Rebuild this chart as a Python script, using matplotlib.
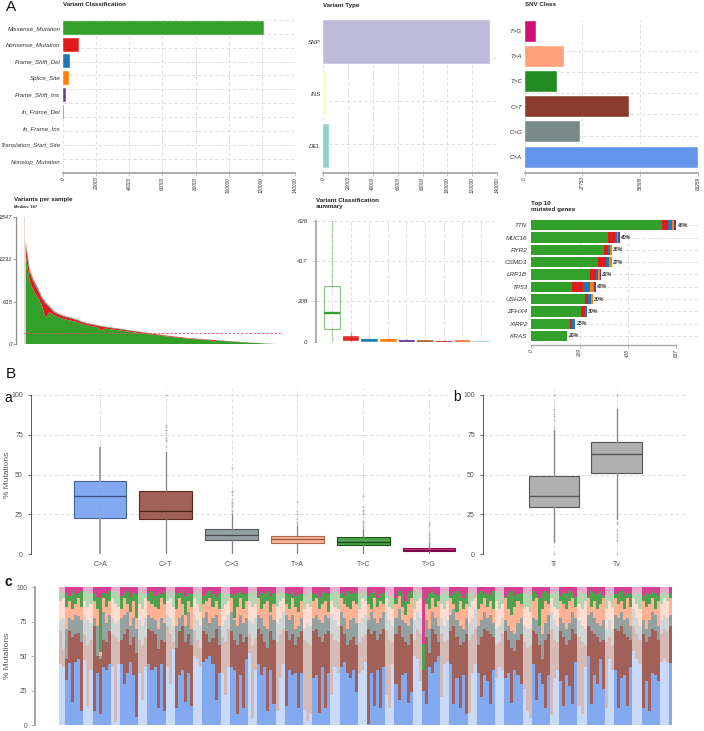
import numpy as np
import matplotlib
matplotlib.use('Agg')
import matplotlib.pyplot as plt
from matplotlib.colors import to_rgba, to_rgb

W, H = 704, 731
plt.rcParams['font.family'] = ['Liberation Sans', 'DejaVu Sans']

GRID = '#d8d8d8'
AXIS_GREY = '#a8a8a8'
TEXT = '#333333'

# variant classification
var_class = ['Missense_Mutation', 'Nonsense_Mutation', 'Frame_Shift_Del', 'Splice_Site', 'Frame_Shift_Ins',
             'In_Frame_Del', 'In_Frame_Ins', 'Translation_Start_Site', 'Nonstop_Mutation']
var_class_counts = [121300, 9900, 4200, 3600, 1600, 600, 300, 250, 40]
var_class_colors = ['#33a02c', '#e31a1c', '#1f78b4', '#ff7f00', '#6a3d9a', '#b15928', '#d53e4f', '#f46d43', '#a6cee3']
var_class_ticks = [0, 20000, 40000, 60000, 80000, 100000, 120000, 140000]

# variant type
var_type = ['SNP', 'INS', 'DEL']
var_type_counts = [134000, 1800, 4600]
var_type_colors = ['#bebada', '#ffffb3', '#8dd3c7']

# snv class
snv_class = ['T>G', 'T>A', 'T>C', 'C>T', 'C>G', 'C>A']
snv_counts = [5280, 19050, 15370, 50000, 26400, 83259]
snv_colors = ['#cd1076', '#ffa07a', '#228b22', '#8b3a2e', '#7a8a88', '#6495ed']
snv_ticks = [0, 27753, 55506, 83259]

# variants per sample, sorted by total
sample_missense = [1295, 910, 774, 678, 575, 380, 468, 422, 397, 376, 359, 346, 333, 318, 294, 278, 267, 257, 247, 200,
                   227, 220, 212, 205, 198, 190, 181, 174, 167, 159, 152, 145, 138, 132, 125, 117, 111, 104, 98, 92,
                   86, 80, 77, 73, 69, 65, 61, 40, 54, 49, 45, 42, 38, 34, 31, 27, 24, 20, 18, 14, 11, 8, 6, 3, 1]
sample_nonsense = [130, 125, 120, 110, 90, 205, 60, 45, 38, 35, 33, 32, 30, 28, 26, 24, 23, 22, 21, 55,
                   20, 19, 18, 18, 17, 16, 16, 15, 14, 14, 13, 12, 12, 11, 10, 10, 9, 9, 8, 8,
                   7, 7, 6, 6, 6, 5, 5, 22, 4, 4, 4, 3, 3, 3, 2, 2, 2, 2, 1, 1, 1, 1, 0, 0, 0]
sample_frameshift = [40, 30, 26, 24, 20, 18, 15, 13, 11, 10, 10, 9, 9, 9, 8, 8, 7, 7, 7, 6,
                     6, 6, 6, 5, 5, 5, 5, 4, 4, 4, 4, 3, 3, 3, 3, 3, 2, 2, 2, 2,
                     2, 2, 2, 1, 1, 1, 1, 1, 1, 1, 1, 1, 0, 0, 0, 0, 0, 0, 0, 0, 0, 0, 0, 0, 0]
sample_splice = [35, 25, 20, 18, 15, 14, 12, 10, 9, 9, 8, 8, 8, 7, 7, 6, 6, 6, 5, 5,
                 5, 5, 4, 4, 4, 4, 3, 3, 3, 3, 3, 3, 2, 2, 2, 2, 2, 2, 2, 1,
                 1, 1, 1, 1, 1, 1, 1, 0, 0, 0, 0, 0, 0, 0, 0, 0, 0, 0, 0, 0, 0, 0, 0, 0, 0]
sample_max = 1847
sample_median = 167

# variant classification summary: q1, median, q3, whisker low, whisker high
summary_q1 = [64, 8, 4, 3, 2, 0, 0, 0, 0]
summary_med = [148, 14, 8, 8, 5, 2, 1, 2, 1]
summary_q3 = [290, 28, 14, 14, 10, 6, 5, 5, 4]
summary_lo = [0, 0, 0, 0, 0, 0, 0, 0, 0]
summary_hi = [626, 50, 20, 24, 14, 9, 8, 8, 6]

# top 10 mutated genes
genes = ['TTN', 'MUC16', 'RYR2', 'CSMD3', 'LRP1B', 'TP53', 'USH2A', 'ZFHX4', 'XIRP2', 'KRAS']
gene_missense = [566, 330, 313, 290, 254, 174, 231, 215, 166, 154]
gene_nonsense = [25, 33, 19, 32, 24, 50, 16, 19, 10, 0]
gene_frameshift = [19, 9, 9, 16, 9, 29, 9, 9, 14, 0]
gene_splice = [7, 4, 10, 12, 9, 20, 10, 0, 0, 0]
gene_fsins = [10, 7, 0, 0, 7, 6, 0, 0, 0, 0]
gene_pct = ['46%', '40%', '36%', '37%', '32%', '48%', '30%', '30%', '25%', '26%']

# titv boxes
titv_labels = ['C>A', 'C>T', 'C>G', 'T>A', 'T>C', 'T>G']
titv_q1 = [22.8, 22, 9.2, 7, 6, 1.8]
titv_med = [36.8, 27, 12, 9.5, 7.5, 2.8]
titv_q3 = [46, 39.5, 15.7, 11.3, 10.7, 4]
titv_lo = [0, 0, 0, 0, 0, 0]
titv_hi = [67, 64, 25, 18, 16, 7]
titv_fliers = [[],
               [68, 71, 72, 73, 76, 78, 80, 81, 100],
               [26, 27, 28, 30, 31, 32, 33, 35, 37, 39, 40, 54],
               [19, 20, 22, 25, 27, 33],
               [17, 18, 19, 20, 21, 25, 26, 27, 28, 30, 36.5, 50],
               [8, 9, 10, 11, 12, 13, 14, 18, 19, 20, 41]]
titv_colors = ['#6495ed', '#8b3a2e', '#7a8a88', '#ffa07a', '#228b22', '#cd1076']

tv_labels = ['Ti', 'Tv']
tv_q1 = [29.5, 50.8]
tv_med = [36.8, 63.2]
tv_q3 = [49, 70.5]
tv_lo = [8, 22]
tv_hi = [78, 91.5]
tv_fliers = [[0, 80, 84, 87, 88, 90, 91, 100], [0, 9, 11, 13, 15, 19, 20, 100]]

# stacked fractions per sample, cumulative tops of each class (T>G fills up to 100)
band_sizes = [2, 6] + [3, 6] * 21 + [3, 1]
c_a_top = [44, 42, 33, 45, 17, 46, 48, 10,
           47, 13, 40, 10, 38, 8, 42, 40, 44,
           42, 2, 44, 44, 30, 38, 46, 36, 6,
           38, 18, 42, 44, 40, 42, 12, 44, 10,
           42, 30, 55, 12, 36, 40, 17, 38, 14,
           50, 48, 42, 46, 48, 50, 44, 18, 38,
           38, 22, 42, 42, 40, 8, 36, 12, 48,
           52, 5, 40, 44, 36, 42, 10, 40, 15,
           10, 34, 44, 14, 40, 36, 38, 12, 38,
           11, 3, 8, 34, 36, 9, 42, 12, 38,
           22, 42, 38, 42, 46, 38, 34, 40, 24,
           38, 40, 46, 1, 38, 14, 40, 12, 42,
           22, 12, 44, 30, 18, 36, 38, 16, 24,
           50, 48, 32, 25, 15, 42, 38, 46, 50,
           20, 44, 46, 44, 15, 34, 12, 36, 8,
           9, 38, 44, 38, 20, 36, 32, 15, 40,
           34, 42, 40, 34, 38, 16, 40, 36, 30,
           26, 10, 5, 44, 18, 38, 30, 12, 36,
           7, 34, 40, 32, 14, 36, 28, 15, 46,
           14, 8, 42, 50, 15, 36, 30, 48, 26,
           12, 48, 40, 40, 12, 34, 36, 14, 42,
           54, 48, 44, 12, 32, 10, 38, 36, 32,
           46, 48, 45, 45]
c_t_top = [68, 55, 48, 68, 64, 66, 67, 60,
           65, 58, 62, 72, 50, 48, 62, 60, 68,
           66, 64, 60, 62, 66, 70, 58, 64, 52,
           62, 58, 64, 70, 68, 66, 55, 62, 60,
           72, 66, 60, 56, 68, 72, 60, 66, 58,
           68, 62, 56, 68, 66, 60, 63, 70, 58,
           64, 60, 70, 68, 62, 58, 66, 60, 64,
           66, 58, 63, 70, 66, 60, 56, 68, 62,
           60, 66, 70, 68, 62, 66, 58, 64, 68,
           62, 60, 58, 68, 70, 64, 60, 66, 68,
           66, 62, 60, 72, 66, 58, 62, 64, 58,
           60, 64, 66, 70, 66, 68, 62, 66, 70,
           68, 62, 60, 66, 72, 64, 60, 58, 66,
           62, 70, 66, 40, 64, 52, 70, 66, 60,
           66, 60, 62, 68, 72, 64, 58, 60, 66,
           62, 66, 70, 58, 64, 70, 68, 66, 64,
           58, 60, 66, 68, 62, 56, 54, 62, 66,
           60, 56, 58, 68, 66, 58, 48, 62, 66,
           70, 62, 60, 68, 64, 58, 62, 70, 66,
           64, 60, 58, 72, 68, 66, 64, 60, 62,
           60, 64, 58, 70, 68, 72, 66, 64, 62,
           72, 66, 62, 66, 60, 64, 70, 68, 62,
           66, 70, 68, 72]
c_g_top = [76, 78, 70, 78, 76, 80, 79, 76,
           80, 76, 74, 78, 72, 50, 82, 74, 80,
           78, 74, 76, 78, 80, 82, 72, 78, 70,
           76, 72, 78, 80, 78, 76, 70, 78, 74,
           80, 78, 72, 72, 78, 80, 72, 82, 70,
           80, 76, 72, 78, 82, 74, 78, 80, 72,
           72, 76, 80, 82, 76, 72, 80, 74, 78,
           76, 74, 78, 80, 78, 72, 70, 80, 76,
           74, 78, 82, 80, 76, 80, 70, 72, 78,
           70, 74, 72, 78, 80, 76, 74, 80, 78,
           80, 76, 72, 82, 78, 70, 76, 78, 74,
           74, 78, 80, 76, 82, 78, 74, 78, 82,
           82, 76, 72, 78, 84, 76, 74, 72, 78,
           76, 82, 78, 40, 76, 70, 82, 78, 72,
           78, 72, 76, 80, 84, 76, 72, 70, 78,
           74, 78, 84, 72, 76, 82, 78, 80, 74,
           70, 72, 78, 76, 72, 68, 66, 74, 78,
           72, 70, 70, 78, 76, 72, 66, 74, 80,
           82, 76, 72, 78, 74, 70, 74, 82, 78,
           76, 72, 70, 80, 82, 78, 74, 72, 76,
           70, 76, 70, 80, 78, 82, 76, 78, 72,
           84, 78, 72, 76, 70, 76, 82, 80, 72,
           76, 80, 78, 80]
t_a_top = [90, 92, 86, 90, 84, 88, 92, 86,
           90, 86, 88, 90, 84, 53, 92, 86, 90,
           92, 88, 86, 84, 92, 88, 82, 90, 78,
           88, 84, 92, 90, 88, 86, 84, 92, 88,
           90, 92, 86, 84, 92, 88, 80, 90, 86,
           92, 88, 82, 88, 90, 92, 86, 90, 84,
           84, 88, 90, 92, 78, 86, 92, 84, 90,
           90, 86, 88, 92, 84, 88, 90, 82, 88,
           86, 90, 92, 88, 84, 92, 86, 82, 90,
           84, 88, 86, 90, 92, 84, 88, 90, 82,
           90, 86, 84, 92, 88, 86, 84, 90, 88,
           84, 92, 90, 88, 84, 92, 86, 90, 88,
           92, 86, 84, 88, 94, 86, 80, 88, 92,
           84, 90, 92, 40, 88, 84, 92, 86, 90,
           88, 84, 90, 92, 88, 82, 90, 84, 88,
           86, 90, 92, 84, 88, 92, 86, 90, 84,
           90, 84, 88, 92, 84, 80, 86, 90, 88,
           84, 86, 82, 90, 92, 72, 84, 90, 88,
           92, 86, 84, 90, 88, 84, 90, 92, 86,
           88, 84, 90, 92, 86, 90, 84, 88, 92,
           84, 90, 86, 92, 88, 90, 84, 92, 86,
           92, 88, 84, 90, 86, 88, 92, 84, 90,
           88, 92, 90, 92]
t_c_top = [97, 96, 96, 94, 97, 95, 96, 97,
           96, 97, 95, 96, 93, 92, 96, 95, 97,
           96, 97, 95, 94, 96, 97, 93, 96, 95,
           97, 96, 95, 96, 97, 94, 96, 95, 97,
           96, 94, 97, 95, 96, 97, 94, 96, 95,
           95, 97, 96, 94, 96, 97, 95, 93, 96,
           97, 95, 96, 95, 94, 96, 97, 95, 96,
           96, 95, 97, 93, 96, 95, 97, 94, 96,
           95, 97, 96, 96, 95, 97, 94, 96, 95,
           94, 96, 97, 95, 96, 93, 97, 96, 95,
           96, 97, 95, 96, 94, 97, 95, 96, 97,
           95, 96, 97, 94, 96, 97, 92, 95, 96,
           97, 94, 96, 92, 97, 95, 90, 96, 97,
           95, 97, 96, 59, 92, 96, 97, 95, 94,
           96, 95, 97, 94, 96, 97, 95, 92, 96,
           95, 97, 94, 96, 97, 95, 96, 94, 97,
           96, 97, 95, 93, 96, 97, 94, 95, 96,
           95, 96, 94, 97, 95, 92, 96, 97, 95,
           96, 95, 97, 94, 96, 95, 97, 96, 93,
           97, 95, 96, 94, 97, 96, 95, 97, 94,
           96, 94, 97, 95, 96, 97, 94, 96, 95,
           95, 97, 96, 94, 96, 95, 97, 96, 94,
           96, 97, 95, 96]


def px_axes(fig, left, top, right, bottom):
    return fig.add_axes([left / W, 1 - bottom / H, (right - left) / W, (bottom - top) / H])


def px_text(fig, x, y, s, **kw):
    kw.setdefault('va', 'center')
    return fig.text(x / W, 1 - y / H, s, **kw)


def clean(ax):
    for side in ['top', 'right', 'left', 'bottom']:
        ax.spines[side].set_visible(False)
    ax.patch.set_alpha(0)
    ax.set_axisbelow(True)


def dashed_v(ax, xs):
    for x in xs:
        ax.axvline(x, color=GRID, lw=0.6, ls=(0, (4, 3)), zorder=0)


def dashed_h(ax, ys):
    for y in ys:
        ax.axhline(y, color=GRID, lw=0.6, ls=(0, (4, 3)), zorder=0)


def darker(col, f):
    return tuple(c * f for c in to_rgb(col))


def top_barplot(fig, box, labels, values, colors, ticks, xmax, first, step, height, grid_px):
    left, top, right, bottom = box
    ax = px_axes(fig, left, top, right, bottom)
    clean(ax)
    ypos = np.arange(len(labels))
    ax.set_ylim((bottom - first) / step, (top - first) / step)
    ax.set_xlim(0, xmax)
    dashed_v(ax, ticks)
    dashed_h(ax, [(g - first) / step for g in grid_px])
    ax.barh(ypos, values, height=height / step, color=colors, edgecolor='white', linewidth=0.3, zorder=2)
    ax.set_yticks(ypos)
    ax.set_yticklabels(labels, fontsize=4.4, style='italic', color=TEXT)
    ax.tick_params(axis='y', length=0, pad=2)
    ax.set_xticks(ticks)
    ax.set_xticklabels([str(t) for t in ticks], fontsize=3.4, rotation=90, color=TEXT, style='italic')
    ax.tick_params(axis='x', length=2, width=0.5, color=AXIS_GREY, pad=1)
    ax.spines['bottom'].set_visible(True)
    ax.spines['bottom'].set_color(AXIS_GREY)
    ax.spines['bottom'].set_linewidth(1.3)
    return ax


def make_stats(q1, med, q3, lo, hi, fliers=None):
    stats = []
    for i in range(len(q1)):
        stats.append({'q1': q1[i], 'med': med[i], 'q3': q3[i], 'whislo': lo[i], 'whishi': hi[i],
                      'fliers': fliers[i] if fliers else []})
    return stats


def main():
    fig = plt.figure(figsize=(W / 100, H / 100), dpi=100)

    # Panel A, top row
    top_barplot(fig, (63, 20, 295, 173), var_class, var_class_counts, var_class_colors, var_class_ticks, 140000,
                28, 16.7, 14, [20 + 13.87 * i for i in range(12)])
    top_barplot(fig, (323.3, 20, 497, 173), var_type, var_type_counts, var_type_colors, var_class_ticks, 140000,
                42, 52, 43.5, [57.7, 101, 144.3])
    top_barplot(fig, (524.7, 20, 698, 173), snv_class, snv_counts, snv_colors, snv_ticks, 83259,
                31, 25.2, 21, [51, 72.3, 93.3, 114.3, 135.7])

    px_text(fig, 63, 5, 'Variant Classification', fontsize=4.5, fontweight='bold', color='#222222')
    px_text(fig, 323, 5, 'Variant Type', fontsize=4.5, fontweight='bold', color='#222222')
    px_text(fig, 525, 5, 'SNV Class', fontsize=4.5, fontweight='bold', color='#222222')

    # Variants per sample
    ax = px_axes(fig, 23.7, 216.7, 283, 344.3)
    clean(ax)
    ax.spines['left'].set_visible(True)
    ax.spines['left'].set_position(('outward', 5.5))
    ax.spines['left'].set_color('#888888')
    ax.spines['left'].set_linewidth(0.9)
    xs = np.arange(len(sample_missense))
    ax.set_xlim(-0.5, len(xs) - 0.5)
    ax.set_ylim(0, sample_max)
    ax.bar([-0.5], [sample_max], width=0.35, align='edge', color='#e6d9cf', linewidth=0, zorder=1)
    ax.stackplot(xs, sample_missense, sample_nonsense, sample_frameshift, sample_splice,
                 colors=['#33a02c', '#e31a1c', '#1f78b4', '#ff7f00'], linewidth=0, zorder=2)
    ax.axhline(sample_median, color='#e8506a', lw=0.6, ls=(0, (3, 2)), zorder=3)
    ax.set_xticks([])
    ax.set_yticks([0, 615, 1231, 1847])
    ax.set_yticklabels(['0', '615', '1231', '1847'], fontsize=4.4, style='italic', color=TEXT)
    ax.tick_params(axis='y', length=2, width=0.5, color='#777777', pad=0.5)
    px_text(fig, 14, 200, 'Variants per sample', fontsize=4.5, fontweight='bold', color='#222222')
    px_text(fig, 14, 207, 'Median: %d' % sample_median, fontsize=2.9, fontweight='bold', color='#222222')

    # Variant classification summary
    ax = px_axes(fig, 315.7, 220.7, 495, 341.7)
    clean(ax)
    ax.set_xlim(-0.875, (495 - 332) / 18.62)
    ax.set_ylim(0, 626)
    dashed_v(ax, range(9))
    dashed_h(ax, [0, 208, 417, 626])
    stats = make_stats(summary_q1, summary_med, summary_q3, summary_lo, summary_hi)
    for i, col in enumerate(var_class_colors):
        face = 'none' if i == 0 else to_rgba(col, 0.85)
        ax.bxp([stats[i]], positions=[i], widths=0.84, showcaps=False, showfliers=False, patch_artist=True,
               boxprops=dict(facecolor=face, edgecolor=to_rgba(col, 0.6), linewidth=0.8),
               whiskerprops=dict(color=to_rgba(col, 0.35), linewidth=1.0),
               medianprops=dict(color=col, linewidth=1.7 if i == 0 else 1.1), zorder=2)
    ax.set_xticks([])
    ax.set_yticks([0, 208, 417, 626])
    ax.set_yticklabels(['0', '208', '417', '626'], fontsize=4.4, style='italic', color=TEXT)
    ax.tick_params(axis='y', length=2, width=0.5, color=AXIS_GREY, pad=4)
    ax.spines['left'].set_visible(True)
    ax.spines['left'].set_color(AXIS_GREY)
    ax.spines['left'].set_linewidth(1.3)
    px_text(fig, 316, 203.5, 'Variant Classification\nsummary', fontsize=4.5, fontweight='bold', color='#222222',
            linespacing=1.1)

    # Top 10 genes
    ax = px_axes(fig, 531.3, 219, 698, 345)
    clean(ax)
    ax.set_xlim(0, 627 * (698 - 531.3) / 145)
    ys = np.arange(len(genes))
    step = 12.3
    ax.set_ylim((345 - 225.3) / step, (219 - 225.3) / step)
    dashed_v(ax, [209, 418])
    dashed_h(ax, ys)
    left = np.zeros(len(genes))
    for vals, col in [(gene_missense, '#33a02c'), (gene_nonsense, '#e31a1c'), (gene_frameshift, '#1f78b4'),
                      (gene_splice, '#ff7f00'), (gene_fsins, '#6a3d9a')]:
        ax.barh(ys, vals, left=left, height=10.3 / step, color=col, linewidth=0, zorder=2)
        left += np.array(vals)
    for y, total, pct in zip(ys, left, gene_pct):
        ax.text(total + 3, y, pct, fontsize=3.7, style='italic', fontweight='bold', color=TEXT, va='center', zorder=3)
    ax.set_yticks(ys)
    ax.set_yticklabels(genes, fontsize=4.6, style='italic', color=TEXT)
    ax.tick_params(axis='y', length=0, pad=3)
    ax.set_xticks([0, 209, 418, 627])
    ax.set_xticklabels(['0', '209', '418', '627'], fontsize=3.4, rotation=90, style='italic', color=TEXT)
    ax.tick_params(axis='x', length=2, width=0.5, color=AXIS_GREY, pad=1)
    ax.spines['bottom'].set_visible(True)
    ax.spines['bottom'].set_bounds(0, 627)
    ax.spines['bottom'].set_color(AXIS_GREY)
    ax.spines['bottom'].set_linewidth(1.0)
    px_text(fig, 531, 206.5, 'Top 10\nmutated genes', fontsize=4.5, fontweight='bold', color='#222222',
            linespacing=1.1)

    # Panel B a
    ax = px_axes(fig, 31.3, 388, 462, 554.3)
    clean(ax)
    ax.set_xlim((31.3 - 100) / 65.8, (462 - 100) / 65.8)
    ax.set_ylim(0, (554.3 - 388) / 1.593)
    pos = np.arange(len(titv_labels))
    dashed_v(ax, pos)
    dashed_h(ax, [0, 25, 50, 75, 100])
    stats = make_stats(titv_q1, titv_med, titv_q3, titv_lo, titv_hi, titv_fliers)
    for i, col in enumerate(titv_colors):
        ax.bxp([stats[i]], positions=[i], widths=0.8, showcaps=False, patch_artist=True,
               boxprops=dict(facecolor=to_rgba(col, 0.8), edgecolor=darker(col, 0.65), linewidth=0.8),
               whiskerprops=dict(color='#a0a0a0' if i == 0 else '#808080', linewidth=1.4 if i == 0 else 0.9),
               medianprops=dict(color=darker(col, 0.55), linewidth=0.9),
               flierprops=dict(marker='o', markersize=1.4, markerfacecolor='#b8b8b8', markeredgewidth=0),
               zorder=2)
    ax.set_xticks(pos)
    ax.set_xticklabels(titv_labels, fontsize=5, color='#555555')
    ax.tick_params(axis='x', length=0, pad=5)
    ax.set_yticks([0, 25, 50, 75, 100])
    ax.set_yticklabels(['0', '25', '50', '75', '100'], fontsize=5, color='#555555')
    ax.tick_params(axis='y', length=2, width=0.6, color='#555555', pad=4)
    ax.spines['left'].set_visible(True)
    ax.spines['left'].set_bounds(0, 100)
    ax.spines['left'].set_color('#555555')
    ax.spines['left'].set_linewidth(0.7)
    px_text(fig, 8, 475, '% Mutations', fontsize=6, color='#555555', rotation=90, ha='center')

    # Panel B b
    ax = px_axes(fig, 483.3, 388, 688, 554.3)
    clean(ax)
    ax.set_xlim((483.3 - 554) / 62.7, (688 - 554) / 62.7)
    ax.set_ylim(0, (554.3 - 388) / 1.593)
    dashed_v(ax, [0, 1])
    dashed_h(ax, [0, 25, 50, 75, 100])
    stats = make_stats(tv_q1, tv_med, tv_q3, tv_lo, tv_hi, tv_fliers)
    ax.bxp(stats, positions=[0, 1], widths=0.81, showcaps=False, patch_artist=True,
           boxprops=dict(facecolor='#b0b0b0', edgecolor='#555555', linewidth=0.8),
           whiskerprops=dict(color='#8a8a8a', linewidth=1.0),
           medianprops=dict(color='#555555', linewidth=1.0),
           flierprops=dict(marker='o', markersize=1.2, markerfacecolor='#a8a8a8', markeredgewidth=0),
           zorder=2)
    ax.set_xticks([0, 1])
    ax.set_xticklabels(tv_labels, fontsize=5, color='#555555')
    ax.tick_params(axis='x', length=0, pad=5)
    ax.set_yticks([0, 25, 50, 75, 100])
    ax.set_yticklabels(['0', '25', '50', '75', '100'], fontsize=5, color='#555555')
    ax.tick_params(axis='y', length=2, width=0.6, color='#555555', pad=4)
    ax.spines['left'].set_visible(True)
    ax.spines['left'].set_bounds(0, 100)
    ax.spines['left'].set_color('#555555')
    ax.spines['left'].set_linewidth(0.7)

    # Panel B c, stacked fractions
    ax = px_axes(fig, 59, 587.3, 672, 725)
    clean(ax)
    ax.spines['left'].set_visible(True)
    ax.spines['left'].set_position(('outward', 17))
    ax.spines['left'].set_color(AXIS_GREY)
    ax.spines['left'].set_linewidth(1.5)
    n = len(c_a_top)
    cols = np.arange(n)
    ax.set_xlim(-0.5, n - 0.5)
    ax.set_ylim(0, 100)
    alphas = np.repeat([0.35 if i % 2 == 0 else 0.8 for i in range(len(band_sizes))], band_sizes)
    tops = [np.array(t, dtype=float) for t in [c_a_top, c_t_top, c_g_top, t_a_top, t_c_top]] + [np.full(n, 100.0)]
    base = np.zeros(n)
    for top, col in zip(tops, ['#6495ed', '#8b3a2e', '#7a8a88', '#ffa07a', '#228b22', '#cd1076']):
        rgba = [to_rgba(col, a) for a in alphas]
        ax.bar(cols, top - base, width=1.0, bottom=base, color=rgba, linewidth=0, antialiased=False)
        base = top
    ax.set_xticks([])
    ax.set_yticks([0, 25, 50, 75, 100])
    ax.set_yticklabels(['0', '25', '50', '75', '100'], fontsize=4.8, color='#555555')
    ax.tick_params(axis='y', length=3, width=0.6, color=AXIS_GREY, pad=3)
    px_text(fig, 8, 656, '% Mutations', fontsize=6, color='#555555', rotation=90, ha='center')

    # Panel letters
    px_text(fig, 11, 7, 'A', fontsize=11, color='#111111', ha='center')
    px_text(fig, 11, 374, 'B', fontsize=11, color='#111111', ha='center')
    white = dict(facecolor='white', edgecolor='none', pad=1.0)
    px_text(fig, 8, 398, 'a', fontsize=10, color='#111111', ha='center', bbox=white, zorder=5)
    px_text(fig, 457, 397, 'b', fontsize=10, color='#111111', ha='center', bbox=white, zorder=5)
    px_text(fig, 8, 582, 'c', fontsize=10, color='#111111', ha='center', fontweight='bold')

    fig.savefig('out.png', dpi=100)


if __name__ == '__main__':
    main()
